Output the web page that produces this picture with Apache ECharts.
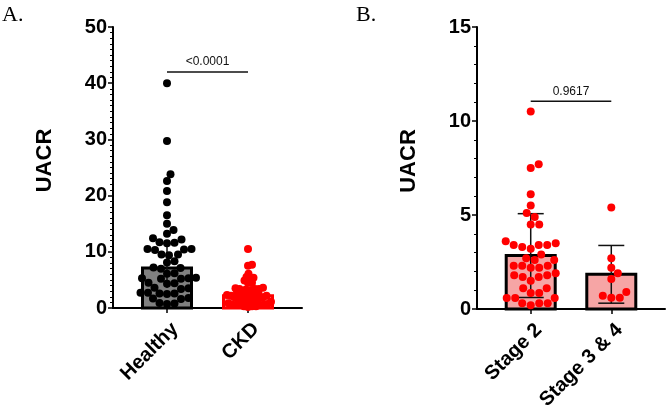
<!DOCTYPE html>
<html>
<head>
<meta charset="utf-8">
<script src="https://cdn.jsdelivr.net/npm/echarts@6/dist/echarts.min.js"></script>
<style>
  html, body { margin: 0; padding: 0; background: #fff; }
  #chart { width: 667px; height: 410px; }
</style>
</head>
<body>
<div id="chart"></div>
<script>
// panel A: all healthy vs all CKD
const catsA = ['Healthy', 'CKD']
const healthy = [40.0, 29.7, 23.8, 22.6, 20.8, 18.8, 16.5, 15.0, 13.9, 13.2, 12.4, 12.2, 11.7, 11.6, 11.5,
  10.5, 10.5, 10.4, 10.3, 9.5, 9.5, 9.4, 8.3, 8.1, 7.2, 7.1, 7.0, 6.2, 6.1, 5.4, 5.3, 5.3, 5.2, 5.2,
  4.5, 4.4, 4.3, 3.6, 3.5, 3.4, 2.7, 2.7, 2.6, 2.6, 2.5, 1.8, 1.7, 1.6, 0.9, 0.8, 0.7]

// panel B: CKD split by stage
const catsB = ['Stage 2', 'Stage 3 & 4']
const stage2 = [10.5, 7.7, 7.5, 6.1, 5.5, 5.1, 4.9, 4.5, 4.5, 3.5, 3.4, 3.6, 3.4, 3.4, 3.2, 3.3,
  2.7, 2.6, 2.6, 2.9, 2.3, 2.3, 2.3, 2.2, 2.2, 1.9, 1.8, 1.7, 1.7, 1.8, 1.5, 1.1, 1.1,
  0.85, 0.85, 0.58, 0.58, 0.58, 0.3, 0.3, 0.3, 0.2]
const stage34 = [5.4, 2.7, 2.2, 1.9, 1.6, 0.9, 0.6, 0.6, 0.7]
const ckd = stage2.concat(stage34)

const pA = '<0.0001'
const pB = '0.9617'
const bracketA = 42
const bracketB = 11.05

const ticksA = [0, 50, 10]
const ticksB = [0, 15, 5]

// stats
const mean = a => a.reduce((s, v) => s + v, 0) / a.length
const sd = a => { const m = mean(a); return Math.sqrt(a.reduce((s, v) => s + (v - m) * (v - m), 0) / (a.length - 1)) }
const quant = (a, q) => { const s = [...a].sort((x, y) => x - y); const p = (s.length - 1) * q; const lo = Math.floor(p); return s[lo] + (s[Math.ceil(p)] - s[lo]) * (p - lo) }

// grid geometry
const gA = { left: 113, top: 27, width: 189, height: 281 }
const gB = { left: 477, top: 27, width: 188, height: 282 }
const xMin = -2 / 3, xMax = 5 / 3
const font = 'Liberation Sans, Arial, sans-serif'

// simple beeswarm: offsets in x units, placed in pixel space
function swarm(values, pxX, pxY, d) {
  const order = values.map((v, i) => i).sort((a, b) => values[a] - values[b])
  const placed = []
  const out = new Array(values.length)
  order.forEach(i => {
    const y = values[i] * pxY
    let x = 0
    for (let k = 0; k < 400; k++) {
      const c = (k % 2 ? 1 : -1) * Math.ceil(k / 2) * 0.5
      const ok = placed.every(p => (p[0] - c) ** 2 + (p[1] - y) ** 2 >= d * d)
      if (ok) { x = c; break }
    }
    placed.push([x, y])
    out[i] = x / pxX
  })
  return out
}

function dots(values, cat, g, yMax, d) {
  const pxX = g.width / (xMax - xMin)
  const pxY = g.height / yMax
  const off = swarm(values, pxX, pxY, d)
  return values.map((v, i) => [cat + off[i], v])
}

function barSeries(idx, data, fills, strokes) {
  return {
    type: 'custom', xAxisIndex: idx, yAxisIndex: idx, z: 1,
    data: data,
    renderItem: (params, api) => {
      const i = params.dataIndex
      const top = api.coord([api.value(0), api.value(1)])
      const bot = api.coord([api.value(0), 0])
      const w = 49
      return {
        type: 'rect',
        shape: { x: top[0] - w / 2, y: top[1], width: w, height: bot[1] - top[1] },
        style: { fill: fills[i], stroke: strokes[i], lineWidth: 3 }
      }
    }
  }
}

function errSeries(idx, data, cap) {
  return {
    type: 'custom', xAxisIndex: idx, yAxisIndex: idx, z: 2,
    data: data,
    renderItem: (params, api) => {
      const lo = api.coord([api.value(0), api.value(1)])
      const hi = api.coord([api.value(0), api.value(2)])
      const st = { stroke: '#111', lineWidth: 1.5 }
      const ch = [{ type: 'line', shape: { x1: lo[0], y1: lo[1], x2: hi[0], y2: hi[1] }, style: st }]
      if (cap > 0) {
        ch.push({ type: 'line', shape: { x1: lo[0] - cap / 2, y1: lo[1], x2: lo[0] + cap / 2, y2: lo[1] }, style: st })
        ch.push({ type: 'line', shape: { x1: hi[0] - cap / 2, y1: hi[1], x2: hi[0] + cap / 2, y2: hi[1] }, style: st })
      }
      return { type: 'group', children: ch }
    }
  }
}

function bracket(idx, y, text) {
  return {
    type: 'custom', xAxisIndex: idx, yAxisIndex: idx, z: 5,
    data: [[0, 1, y]],
    renderItem: (params, api) => {
      const a = api.coord([api.value(0), api.value(2)])
      const b = api.coord([api.value(1), api.value(2)])
      return {
        type: 'group',
        children: [
          { type: 'line', shape: { x1: a[0], y1: a[1], x2: b[0], y2: b[1] }, style: { stroke: '#111', lineWidth: 1.5 } },
          { type: 'text', x: (a[0] + b[0]) / 2, y: a[1] - 4,
            style: { text: text, fill: '#111', font: '12px ' + font, align: 'center', verticalAlign: 'bottom' } }
        ]
      }
    }
  }
}

function scatter(idx, data, color) {
  return {
    type: 'scatter', xAxisIndex: idx, yAxisIndex: idx, z: 3,
    symbolSize: 8, data: data,
    itemStyle: { color: color, opacity: 1 }
  }
}

const xAxisBase = (idx, cats) => ({
  type: 'value', gridIndex: idx, min: xMin, max: xMax,
  splitLine: { show: false },
  axisLine: { show: true, onZero: false, lineStyle: { color: '#000', width: 2 } },
  axisTick: { show: true, customValues: [0, 1], length: 5, lineStyle: { color: '#000', width: 1.5 } },
  axisLabel: {
    customValues: [0.1, 1.1], rotate: 45, margin: 18,
    formatter: v => cats[Math.round(v)],
    color: '#000', fontFamily: font, fontWeight: 'bold', fontSize: 20
  }
})

const yAxisBase = (idx, t) => ({
  type: 'value', gridIndex: idx, min: t[0], max: t[1], interval: t[2],
  name: 'UACR', nameLocation: 'middle', nameGap: 57,
  nameTextStyle: { color: '#000', fontFamily: font, fontWeight: 'bold', fontSize: 22, padding: [0, 0, 0, 14] },
  splitLine: { show: false },
  axisLine: { show: true, onZero: false, lineStyle: { color: '#000', width: 2 } },
  axisTick: { show: true, length: 5, lineStyle: { color: '#000', width: 1.5 } },
  minorTick: { show: true, splitNumber: t[2] === 10 ? 10 : 5, length: 3, lineStyle: { color: '#000', width: 1 } },
  axisLabel: { margin: 6, color: '#000', fontFamily: font, fontWeight: 'bold', fontSize: 20 }
})

const chart = echarts.init(document.getElementById('chart'), null, { renderer: 'canvas' })

const option = {
  backgroundColor: '#fff',
  animation: false,
  grid: [
    Object.assign({ outerBoundsMode: 'none', containLabel: false }, gA),
    Object.assign({ outerBoundsMode: 'none', containLabel: false }, gB)
  ],
  xAxis: [xAxisBase(0, catsA), xAxisBase(1, catsB)],
  yAxis: [yAxisBase(0, ticksA), yAxisBase(1, ticksB)],
  graphic: [
    { type: 'text', left: 2, top: 4, style: { text: 'A.', font: '22px Liberation Serif, Times New Roman, serif', fill: '#000' } },
    { type: 'text', left: 356, top: 4, style: { text: 'B.', font: '22px Liberation Serif, Times New Roman, serif', fill: '#000' } }
  ],
  series: [
    // panel A (median + IQR)
    barSeries(0, [[0, quant(healthy, 0.5)], [1, quant(ckd, 0.5)]], ['#808080', '#f6a5a5'], ['#000', '#f00']),
    errSeries(0, [[0, quant(healthy, 0.25), quant(healthy, 0.75)]], 0),
    scatter(0, dots(healthy, 0, gA, ticksA[1], 7.5), '#000'),
    scatter(0, dots(ckd, 1, gA, ticksA[1], 3.8), '#f00'),
    bracket(0, bracketA, pA),
    // panel B (mean + SD)
    barSeries(1, [[0, mean(stage2)], [1, mean(stage34)]], ['#f6a5a5', '#f6a5a5'], ['#000', '#000']),
    errSeries(1, [[0, mean(stage2) - sd(stage2), mean(stage2) + sd(stage2)], [1, mean(stage34) - sd(stage34), mean(stage34) + sd(stage34)]], 26),
    scatter(1, dots(stage2, 0, gB, ticksB[1], 8.5), '#f00'),
    scatter(1, dots(stage34, 1, gB, ticksB[1], 8.5), '#f00'),
    bracket(1, bracketB, pB)
  ]
}

chart.setOption(option)
</script>
</body>
</html>
